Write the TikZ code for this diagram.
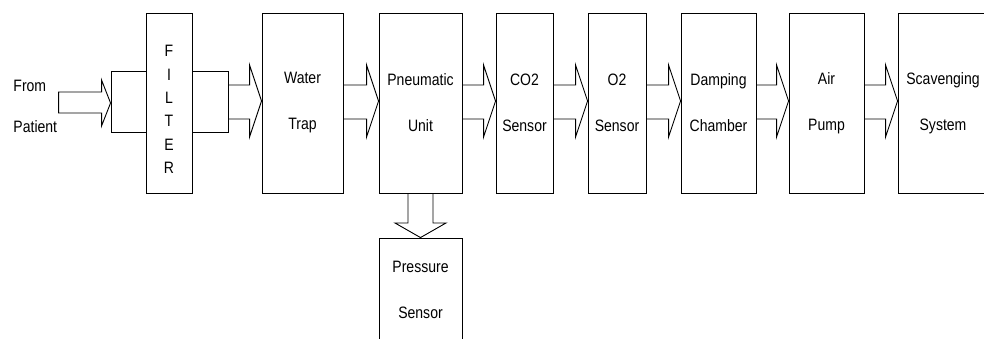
\documentclass[tikz,border=0pt]{standalone}
\usepackage{fontspec}
\setmainfont[FakeStretch=0.85]{Liberation Sans}
\usetikzlibrary{calc}
\newcommand\flowarrow[2]{%
  \draw[conn] (#1.east |- sT) -- ([xshift=-12pt]#2.west |- sT) -- ([xshift=-12pt]#2.west |- wT)
    -- (#2.west |- mid) -- ([xshift=-12pt]#2.west |- wB) -- ([xshift=-12pt]#2.west |- sB) -- (#1.east |- sB);}
\begin{document}
\begin{tikzpicture}[x=1pt,y=-1pt,line width=0.9pt,
  txt/.style={font=\fontsize{16.5}{46}\selectfont},
  box/.style={draw,rectangle,inner sep=0pt,minimum height=180pt,align=center,txt},
  side/.style={draw,rectangle,inner sep=0pt,minimum height=61pt},
  conn/.style={draw,line join=miter}]
\useasboundingbox (0,0) rectangle (984,338);
\clip (0,0) rectangle (984,338);
% levels
\coordinate (sT) at (0,85);
\coordinate (sB) at (0,119);
\coordinate (wT) at (0,65);
\coordinate (wB) at (0,137);
\coordinate (mid) at (0,101);
\coordinate (iT) at (0,92);
\coordinate (iB) at (0,113);
\coordinate (iwT) at (0,80);
\coordinate (iwB) at (0,126);
\coordinate (imid) at (0,103);
\coordinate (dW) at (0,223);
% nodes
\node[txt,font=\fontsize{16.5}{41.5}\selectfont,align=left,anchor=west,inner sep=0pt] (src) at (13,106.5) {From\\Patient};
\node[box,minimum width=46pt,label={[name=filtertxt,align=center,font=\fontsize{16.5}{23.4}\selectfont,yshift=-6.5pt]center:F\\I\\L\\T\\E\\R}] (filter) at (169,103) {};
\node[side,minimum width=35pt] (inbox) at (128.5,101.5) {};
\node[side,minimum width=36pt] (outbox) at (210,101.5) {};
\node[box,minimum width=81pt] (water) at (302.5,103) {Water\\Trap};
\node[box,minimum width=83pt] (pneu) at (420.5,103) {Pneumatic\\Unit};
\node[box,minimum width=57pt] (co2) at (524.5,103) {CO2\\Sensor};
\node[box,minimum width=58pt] (o2) at (617,103) {O2\\Sensor};
\node[box,minimum width=75pt] (damp) at (718.5,103) {Damping\\Chamber};
\node[box,minimum width=75pt] (pump) at (826.5,103) {Air\\Pump};
\node[box,minimum width=90pt] (scav) at (943,103) {Scavenging\\System};
\node[box,minimum width=83pt,minimum height=103pt] (press) at (420.5,289.5) {Pressure\\Sensor};
% input arrow
\draw[conn] ([xshift=-52pt]inbox.west |- iT) -- ([xshift=-9pt]inbox.west |- iT) -- ([xshift=-9pt]inbox.west |- iwT)
  -- (inbox.west |- imid) -- ([xshift=-9pt]inbox.west |- iwB) -- ([xshift=-9pt]inbox.west |- iB)
  -- ([xshift=-52pt]inbox.west |- iB) -- cycle;
% flow arrows
\flowarrow{outbox}{water}
\flowarrow{water}{pneu}
\flowarrow{pneu}{co2}
\flowarrow{co2}{o2}
\flowarrow{o2}{damp}
\flowarrow{damp}{pump}
\flowarrow{pump}{scav}
% down arrow
\draw[conn] ([xshift=-12.5pt]pneu.south) -- ([xshift=-12.5pt]pneu.south |- dW) -- ([xshift=-25.5pt]pneu.south |- dW)
  -- (press.north) -- ([xshift=25.5pt]pneu.south |- dW) -- ([xshift=12.5pt]pneu.south |- dW) -- ([xshift=12.5pt]pneu.south);
\end{tikzpicture}
\end{document}
